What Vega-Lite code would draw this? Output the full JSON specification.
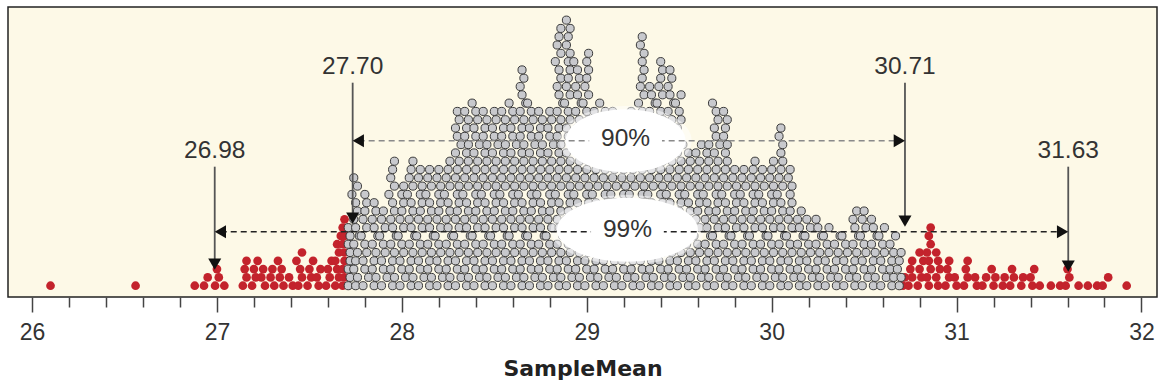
{
"$schema": "https://vega.github.io/schema/vega-lite/v6.json",
"width": 1149, "height": 290,
"autosize": {"type": "none"},
"padding": {"left": 8, "top": 7, "right": 3, "bottom": 91},
"background": "white",
"config": {"view": {"fill": "#fdf9e7", "stroke": "#222222", "strokeWidth": 1.5}},
"datasets": {
"intervals": [
{"iv":"90%","lo":27.734,"hi":30.721,"mid":29.21,"y":18.47},
{"iv":"99%","lo":26.988,"hi":31.604,"mid":29.22,"y":7.51}
],
"marks": [
{"label":"26.98","x":26.988,"top":15.34,"tip":2.93},
{"label":"27.70","x":27.734,"top":25.46,"tip":8.47},
{"label":"30.71","x":30.721,"top":25.46,"tip":8.11},
{"label":"31.63","x":31.604,"top":15.34,"tip":2.69}
],
"means": [
{"m":26.10},{"m":26.56},{"m":26.88},{"m":26.93},{"m":26.95},{"m":26.99},{"m":27.01},{"m":27.00},{"m":27.04},
{"m":27.14},{"m":27.16},{"m":27.15},{"m":27.16},{"m":27.19},{"m":27.21},{"m":27.20},{"m":27.22},
{"m":27.26},{"m":27.24},{"m":27.25},{"m":27.31},{"m":27.29},{"m":27.30},{"m":27.36},{"m":27.34},{"m":27.35},{"m":27.33},
{"m":27.41},{"m":27.39},{"m":27.44},{"m":27.46},{"m":27.45},{"m":27.43},{"m":27.46},{"m":27.49},{"m":27.51},{"m":27.50},{"m":27.52},
{"m":27.55},{"m":27.54},{"m":27.56},{"m":27.59},{"m":27.61},{"m":27.60},{"m":27.62},
{"m":27.64},{"m":27.66},{"m":27.65},{"m":27.64},{"m":27.66},{"m":27.65},{"m":27.67},
{"m":27.68},{"m":27.69},{"m":27.68},{"m":27.69},{"m":27.69},{"m":27.68},{"m":27.69},{"m":27.68},{"m":27.69},
{"m":27.71},{"m":27.72},{"m":27.71},{"m":27.72},{"m":27.72},{"m":27.71},{"m":27.72},{"m":27.71},
{"m":27.75},{"m":27.76},{"m":27.74},{"m":27.75},{"m":27.76},{"m":27.74},{"m":27.77},{"m":27.75},{"m":27.74},{"m":27.76},{"m":27.75},{"m":27.73},{"m":27.76},{"m":27.74},
{"m":27.79},{"m":27.82},{"m":27.80},{"m":27.79},{"m":27.81},{"m":27.80},{"m":27.78},{"m":27.81},{"m":27.79},{"m":27.80},{"m":27.81},{"m":27.80},
{"m":27.85},{"m":27.86},{"m":27.84},{"m":27.85},{"m":27.86},{"m":27.84},{"m":27.87},{"m":27.85},{"m":27.84},{"m":27.86},{"m":27.85},
{"m":27.89},{"m":27.92},{"m":27.90},{"m":27.89},{"m":27.91},{"m":27.90},{"m":27.88},{"m":27.91},{"m":27.89},{"m":27.90},
{"m":27.95},{"m":27.96},{"m":27.94},{"m":27.95},{"m":27.96},{"m":27.94},{"m":27.97},{"m":27.95},{"m":27.94},{"m":27.96},{"m":27.95},{"m":27.93},{"m":27.96},{"m":27.94},{"m":27.95},{"m":27.96},
{"m":27.99},{"m":28.02},{"m":28.00},{"m":27.99},{"m":28.01},{"m":28.00},{"m":27.98},{"m":28.01},{"m":27.99},{"m":28.00},{"m":28.01},{"m":28.00},{"m":28.01},
{"m":28.05},{"m":28.06},{"m":28.04},{"m":28.05},{"m":28.06},{"m":28.04},{"m":28.07},{"m":28.05},{"m":28.04},{"m":28.06},{"m":28.05},{"m":28.03},{"m":28.06},{"m":28.04},{"m":28.05},{"m":28.06},
{"m":28.09},{"m":28.12},{"m":28.10},{"m":28.09},{"m":28.11},{"m":28.10},{"m":28.08},{"m":28.11},{"m":28.09},{"m":28.10},{"m":28.11},{"m":28.10},{"m":28.11},{"m":28.09},{"m":28.10},
{"m":28.15},{"m":28.16},{"m":28.14},{"m":28.15},{"m":28.16},{"m":28.14},{"m":28.17},{"m":28.15},{"m":28.14},{"m":28.16},{"m":28.15},{"m":28.13},{"m":28.16},{"m":28.14},{"m":28.15},
{"m":28.19},{"m":28.22},{"m":28.20},{"m":28.19},{"m":28.21},{"m":28.20},{"m":28.18},{"m":28.21},{"m":28.19},{"m":28.20},{"m":28.21},{"m":28.20},{"m":28.21},{"m":28.19},{"m":28.20},
{"m":28.25},{"m":28.26},{"m":28.24},{"m":28.25},{"m":28.26},{"m":28.24},{"m":28.27},{"m":28.25},{"m":28.24},{"m":28.26},{"m":28.25},{"m":28.23},{"m":28.26},{"m":28.24},{"m":28.25},{"m":28.26},
{"m":28.29},{"m":28.32},{"m":28.30},{"m":28.29},{"m":28.31},{"m":28.30},{"m":28.28},{"m":28.31},{"m":28.29},{"m":28.30},{"m":28.31},{"m":28.30},{"m":28.31},{"m":28.29},{"m":28.30},{"m":28.31},{"m":28.29},{"m":28.32},{"m":28.30},{"m":28.29},{"m":28.31},{"m":28.30},
{"m":28.35},{"m":28.36},{"m":28.34},{"m":28.35},{"m":28.36},{"m":28.34},{"m":28.37},{"m":28.35},{"m":28.34},{"m":28.36},{"m":28.35},{"m":28.33},{"m":28.36},{"m":28.34},{"m":28.35},{"m":28.36},{"m":28.35},{"m":28.36},{"m":28.34},{"m":28.35},{"m":28.36},{"m":28.34},
{"m":28.39},{"m":28.42},{"m":28.40},{"m":28.39},{"m":28.41},{"m":28.40},{"m":28.38},{"m":28.41},{"m":28.39},{"m":28.40},{"m":28.41},{"m":28.40},{"m":28.41},{"m":28.39},{"m":28.40},{"m":28.41},{"m":28.39},{"m":28.42},{"m":28.40},{"m":28.39},{"m":28.41},{"m":28.40},{"m":28.38},
{"m":28.45},{"m":28.46},{"m":28.44},{"m":28.45},{"m":28.46},{"m":28.44},{"m":28.47},{"m":28.45},{"m":28.44},{"m":28.46},{"m":28.45},{"m":28.43},{"m":28.46},{"m":28.44},{"m":28.45},{"m":28.46},{"m":28.45},{"m":28.46},{"m":28.44},{"m":28.45},{"m":28.46},{"m":28.44},
{"m":28.49},{"m":28.52},{"m":28.50},{"m":28.49},{"m":28.51},{"m":28.50},{"m":28.48},{"m":28.51},{"m":28.49},{"m":28.50},{"m":28.51},{"m":28.50},{"m":28.51},{"m":28.49},{"m":28.50},{"m":28.51},{"m":28.49},{"m":28.52},{"m":28.50},{"m":28.49},{"m":28.51},{"m":28.50},
{"m":28.55},{"m":28.56},{"m":28.54},{"m":28.55},{"m":28.56},{"m":28.54},{"m":28.57},{"m":28.55},{"m":28.54},{"m":28.56},{"m":28.55},{"m":28.53},{"m":28.56},{"m":28.54},{"m":28.55},{"m":28.56},{"m":28.55},{"m":28.56},{"m":28.54},{"m":28.55},{"m":28.56},{"m":28.54},
{"m":28.59},{"m":28.62},{"m":28.60},{"m":28.59},{"m":28.61},{"m":28.60},{"m":28.58},{"m":28.61},{"m":28.59},{"m":28.60},{"m":28.61},{"m":28.60},{"m":28.61},{"m":28.59},{"m":28.60},{"m":28.61},{"m":28.59},{"m":28.62},{"m":28.60},{"m":28.59},{"m":28.61},{"m":28.60},{"m":28.58},
{"m":28.65},{"m":28.66},{"m":28.64},{"m":28.65},{"m":28.66},{"m":28.64},{"m":28.67},{"m":28.65},{"m":28.64},{"m":28.66},{"m":28.65},{"m":28.63},{"m":28.66},{"m":28.64},{"m":28.65},{"m":28.66},{"m":28.65},{"m":28.66},{"m":28.64},{"m":28.65},{"m":28.66},{"m":28.64},{"m":28.67},{"m":28.65},{"m":28.64},{"m":28.66},{"m":28.65},
{"m":28.69},{"m":28.72},{"m":28.70},{"m":28.69},{"m":28.71},{"m":28.70},{"m":28.68},{"m":28.71},{"m":28.69},{"m":28.70},{"m":28.71},{"m":28.70},{"m":28.71},{"m":28.69},{"m":28.70},{"m":28.71},{"m":28.69},{"m":28.72},{"m":28.70},{"m":28.69},{"m":28.71},{"m":28.70},{"m":28.68},
{"m":28.75},{"m":28.76},{"m":28.74},{"m":28.75},{"m":28.76},{"m":28.74},{"m":28.77},{"m":28.75},{"m":28.74},{"m":28.76},{"m":28.75},{"m":28.73},{"m":28.76},{"m":28.74},{"m":28.75},{"m":28.76},{"m":28.75},{"m":28.76},{"m":28.74},{"m":28.75},{"m":28.76},{"m":28.74},
{"m":28.79},{"m":28.82},{"m":28.80},{"m":28.79},{"m":28.81},{"m":28.80},{"m":28.78},{"m":28.81},{"m":28.79},{"m":28.80},{"m":28.81},{"m":28.80},{"m":28.81},{"m":28.79},{"m":28.80},{"m":28.81},{"m":28.79},{"m":28.82},{"m":28.80},{"m":28.79},{"m":28.81},{"m":28.80},
{"m":28.85},{"m":28.86},{"m":28.84},{"m":28.85},{"m":28.86},{"m":28.84},{"m":28.87},{"m":28.85},{"m":28.84},{"m":28.86},{"m":28.85},{"m":28.83},{"m":28.86},{"m":28.84},{"m":28.85},{"m":28.86},
{"m":28.85},{"m":28.86},{"m":28.84},{"m":28.85},{"m":28.86},{"m":28.84},{"m":28.87},{"m":28.85},{"m":28.84},{"m":28.86},{"m":28.85},{"m":28.83},{"m":28.86},{"m":28.84},{"m":28.85},{"m":28.86},
{"m":28.89},{"m":28.92},{"m":28.90},{"m":28.89},{"m":28.91},{"m":28.90},{"m":28.88},{"m":28.91},{"m":28.89},{"m":28.90},{"m":28.91},{"m":28.90},{"m":28.91},{"m":28.89},{"m":28.90},{"m":28.91},
{"m":28.89},{"m":28.92},{"m":28.90},{"m":28.89},{"m":28.91},{"m":28.90},{"m":28.88},{"m":28.91},{"m":28.89},{"m":28.90},{"m":28.91},{"m":28.90},{"m":28.91},{"m":28.89},{"m":28.90},{"m":28.91},{"m":28.89},
{"m":28.95},{"m":28.96},{"m":28.94},{"m":28.95},{"m":28.96},{"m":28.94},{"m":28.97},{"m":28.95},{"m":28.94},{"m":28.96},{"m":28.95},{"m":28.93},{"m":28.96},{"m":28.94},{"m":28.95},{"m":28.96},
{"m":28.95},{"m":28.96},{"m":28.94},{"m":28.95},{"m":28.96},{"m":28.94},{"m":28.97},{"m":28.95},{"m":28.94},{"m":28.96},{"m":28.95},{"m":28.93},
{"m":28.99},{"m":29.02},{"m":29.00},{"m":28.99},{"m":29.01},{"m":29.00},{"m":28.98},{"m":29.01},{"m":28.99},{"m":29.00},{"m":29.01},{"m":29.00},{"m":29.01},{"m":28.99},{"m":29.00},{"m":29.01},
{"m":28.99},{"m":29.02},{"m":29.00},{"m":28.99},{"m":29.01},{"m":29.00},{"m":28.98},{"m":29.01},{"m":28.99},{"m":29.00},{"m":29.01},{"m":29.00},{"m":29.01},
{"m":29.05},{"m":29.06},{"m":29.04},{"m":29.05},{"m":29.06},{"m":29.04},{"m":29.07},{"m":29.05},{"m":29.04},{"m":29.06},{"m":29.05},{"m":29.03},{"m":29.06},{"m":29.04},{"m":29.05},{"m":29.06},{"m":29.05},{"m":29.06},{"m":29.04},{"m":29.05},{"m":29.06},{"m":29.04},{"m":29.07},
{"m":29.09},{"m":29.12},{"m":29.10},{"m":29.09},{"m":29.11},{"m":29.10},{"m":29.08},{"m":29.11},{"m":29.09},{"m":29.10},{"m":29.11},{"m":29.10},{"m":29.11},{"m":29.09},{"m":29.10},{"m":29.11},{"m":29.09},{"m":29.12},{"m":29.10},{"m":29.09},{"m":29.11},{"m":29.10},
{"m":29.15},{"m":29.16},{"m":29.14},{"m":29.15},{"m":29.16},{"m":29.14},{"m":29.17},{"m":29.15},{"m":29.14},{"m":29.16},{"m":29.15},{"m":29.13},{"m":29.16},{"m":29.14},{"m":29.15},{"m":29.16},{"m":29.15},{"m":29.16},{"m":29.14},{"m":29.15},{"m":29.16},{"m":29.14},
{"m":29.19},{"m":29.22},{"m":29.20},{"m":29.19},{"m":29.21},{"m":29.20},{"m":29.18},{"m":29.21},{"m":29.19},{"m":29.20},{"m":29.21},{"m":29.20},{"m":29.21},{"m":29.19},{"m":29.20},{"m":29.21},{"m":29.19},{"m":29.22},{"m":29.20},{"m":29.19},{"m":29.21},
{"m":29.25},{"m":29.26},{"m":29.24},{"m":29.25},{"m":29.26},{"m":29.24},{"m":29.27},{"m":29.25},{"m":29.24},{"m":29.26},{"m":29.25},{"m":29.23},{"m":29.26},{"m":29.24},{"m":29.25},{"m":29.26},{"m":29.25},{"m":29.26},{"m":29.24},{"m":29.25},{"m":29.26},{"m":29.24},
{"m":29.29},{"m":29.32},{"m":29.30},{"m":29.29},{"m":29.31},{"m":29.30},{"m":29.28},{"m":29.31},{"m":29.29},{"m":29.30},{"m":29.31},{"m":29.30},{"m":29.31},{"m":29.29},{"m":29.30},{"m":29.31},
{"m":29.29},{"m":29.32},{"m":29.30},{"m":29.29},{"m":29.31},{"m":29.30},{"m":29.28},{"m":29.31},{"m":29.29},{"m":29.30},{"m":29.31},{"m":29.30},{"m":29.31},{"m":29.29},{"m":29.30},
{"m":29.35},{"m":29.36},{"m":29.34},{"m":29.35},{"m":29.36},{"m":29.34},{"m":29.37},{"m":29.35},{"m":29.34},{"m":29.36},{"m":29.35},{"m":29.33},{"m":29.36},{"m":29.34},{"m":29.35},{"m":29.36},{"m":29.35},{"m":29.36},{"m":29.34},{"m":29.35},{"m":29.36},{"m":29.34},{"m":29.37},{"m":29.35},{"m":29.34},
{"m":29.39},{"m":29.42},{"m":29.40},{"m":29.39},{"m":29.41},{"m":29.40},{"m":29.38},{"m":29.41},{"m":29.39},{"m":29.40},{"m":29.41},{"m":29.40},{"m":29.41},{"m":29.39},{"m":29.40},{"m":29.41},
{"m":29.39},{"m":29.42},{"m":29.40},{"m":29.39},{"m":29.41},{"m":29.40},{"m":29.38},{"m":29.41},{"m":29.39},{"m":29.40},{"m":29.41},{"m":29.40},
{"m":29.45},{"m":29.46},{"m":29.44},{"m":29.45},{"m":29.46},{"m":29.44},{"m":29.47},{"m":29.45},{"m":29.44},{"m":29.46},{"m":29.45},{"m":29.43},{"m":29.46},{"m":29.44},{"m":29.45},{"m":29.46},
{"m":29.45},{"m":29.46},{"m":29.44},{"m":29.45},{"m":29.46},{"m":29.44},{"m":29.47},{"m":29.45},{"m":29.44},{"m":29.46},{"m":29.45},
{"m":29.49},{"m":29.52},{"m":29.50},{"m":29.49},{"m":29.51},{"m":29.50},{"m":29.48},{"m":29.51},{"m":29.49},{"m":29.50},{"m":29.51},{"m":29.50},{"m":29.51},{"m":29.49},{"m":29.50},{"m":29.51},{"m":29.49},{"m":29.52},{"m":29.50},{"m":29.49},{"m":29.51},{"m":29.50},{"m":29.48},{"m":29.51},
{"m":29.55},{"m":29.56},{"m":29.54},{"m":29.55},{"m":29.56},{"m":29.54},{"m":29.57},{"m":29.55},{"m":29.54},{"m":29.56},{"m":29.55},{"m":29.53},{"m":29.56},{"m":29.54},{"m":29.55},{"m":29.56},{"m":29.55},
{"m":29.59},{"m":29.62},{"m":29.60},{"m":29.59},{"m":29.61},{"m":29.60},{"m":29.58},{"m":29.61},{"m":29.59},{"m":29.60},{"m":29.61},{"m":29.60},{"m":29.61},{"m":29.59},{"m":29.60},{"m":29.61},{"m":29.59},{"m":29.62},
{"m":29.65},{"m":29.66},{"m":29.64},{"m":29.65},{"m":29.66},{"m":29.64},{"m":29.67},{"m":29.65},{"m":29.64},{"m":29.66},{"m":29.65},{"m":29.63},{"m":29.66},{"m":29.64},{"m":29.65},{"m":29.66},{"m":29.65},{"m":29.66},
{"m":29.69},{"m":29.72},{"m":29.70},{"m":29.69},{"m":29.71},{"m":29.70},{"m":29.68},{"m":29.71},{"m":29.69},{"m":29.70},{"m":29.71},{"m":29.70},{"m":29.71},{"m":29.69},{"m":29.70},{"m":29.71},{"m":29.69},{"m":29.72},{"m":29.70},{"m":29.69},{"m":29.71},{"m":29.70},{"m":29.68},
{"m":29.75},{"m":29.76},{"m":29.74},{"m":29.75},{"m":29.76},{"m":29.74},{"m":29.77},{"m":29.75},{"m":29.74},{"m":29.76},{"m":29.75},{"m":29.73},{"m":29.76},{"m":29.74},{"m":29.75},{"m":29.76},{"m":29.75},{"m":29.76},{"m":29.74},{"m":29.75},{"m":29.76},{"m":29.74},
{"m":29.79},{"m":29.82},{"m":29.80},{"m":29.79},{"m":29.81},{"m":29.80},{"m":29.78},{"m":29.81},{"m":29.79},{"m":29.80},{"m":29.81},{"m":29.80},{"m":29.81},{"m":29.79},{"m":29.80},
{"m":29.85},{"m":29.86},{"m":29.84},{"m":29.85},{"m":29.86},{"m":29.84},{"m":29.87},{"m":29.85},{"m":29.84},{"m":29.86},{"m":29.85},{"m":29.83},{"m":29.86},{"m":29.84},{"m":29.85},
{"m":29.89},{"m":29.92},{"m":29.90},{"m":29.89},{"m":29.91},{"m":29.90},{"m":29.88},{"m":29.91},{"m":29.89},{"m":29.90},{"m":29.91},{"m":29.90},{"m":29.91},{"m":29.89},{"m":29.90},{"m":29.91},
{"m":29.95},{"m":29.96},{"m":29.94},{"m":29.95},{"m":29.96},{"m":29.94},{"m":29.97},{"m":29.95},{"m":29.94},{"m":29.96},{"m":29.95},{"m":29.93},{"m":29.96},{"m":29.94},{"m":29.95},
{"m":29.99},{"m":30.02},{"m":30.00},{"m":29.99},{"m":30.01},{"m":30.00},{"m":29.98},{"m":30.01},{"m":29.99},{"m":30.00},{"m":30.01},{"m":30.00},{"m":30.01},{"m":29.99},{"m":30.00},{"m":30.01},
{"m":30.05},{"m":30.06},{"m":30.04},{"m":30.05},{"m":30.06},{"m":30.04},{"m":30.07},{"m":30.05},{"m":30.04},{"m":30.06},{"m":30.05},{"m":30.03},{"m":30.06},{"m":30.04},{"m":30.05},{"m":30.06},{"m":30.05},{"m":30.06},{"m":30.04},{"m":30.05},
{"m":30.09},{"m":30.12},{"m":30.10},{"m":30.09},{"m":30.11},{"m":30.10},{"m":30.08},{"m":30.11},{"m":30.09},{"m":30.10},{"m":30.11},{"m":30.10},{"m":30.11},{"m":30.09},{"m":30.10},
{"m":30.15},{"m":30.16},{"m":30.14},{"m":30.15},{"m":30.16},{"m":30.14},{"m":30.17},{"m":30.15},{"m":30.14},{"m":30.16},
{"m":30.19},{"m":30.22},{"m":30.20},{"m":30.19},{"m":30.21},{"m":30.20},{"m":30.18},{"m":30.21},{"m":30.19},
{"m":30.25},{"m":30.26},{"m":30.24},{"m":30.25},{"m":30.26},{"m":30.24},{"m":30.27},{"m":30.25},{"m":30.24},
{"m":30.29},{"m":30.32},{"m":30.30},{"m":30.29},{"m":30.31},{"m":30.30},{"m":30.28},{"m":30.31},
{"m":30.35},{"m":30.36},{"m":30.34},{"m":30.35},{"m":30.36},{"m":30.34},{"m":30.37},
{"m":30.39},{"m":30.42},{"m":30.40},{"m":30.39},{"m":30.41},{"m":30.40},{"m":30.38},
{"m":30.45},{"m":30.46},{"m":30.44},{"m":30.45},{"m":30.46},{"m":30.44},{"m":30.47},{"m":30.45},{"m":30.44},{"m":30.46},
{"m":30.49},{"m":30.52},{"m":30.50},{"m":30.49},{"m":30.51},{"m":30.50},{"m":30.48},{"m":30.51},{"m":30.49},{"m":30.50},
{"m":30.55},{"m":30.56},{"m":30.54},{"m":30.55},{"m":30.56},{"m":30.54},{"m":30.57},{"m":30.55},{"m":30.54},
{"m":30.59},{"m":30.62},{"m":30.60},{"m":30.59},{"m":30.61},{"m":30.60},{"m":30.58},{"m":30.61},
{"m":30.65},{"m":30.66},{"m":30.64},{"m":30.65},{"m":30.66},{"m":30.64},{"m":30.67},
{"m":30.69},{"m":30.70},{"m":30.68},{"m":30.69},{"m":30.70},
{"m":30.71},{"m":30.72},{"m":30.74},{"m":30.76},{"m":30.75},{"m":30.76},{"m":30.79},{"m":30.81},{"m":30.80},{"m":30.82},{"m":30.80},
{"m":30.85},{"m":30.84},{"m":30.86},{"m":30.85},{"m":30.84},{"m":30.86},{"m":30.85},{"m":30.86},{"m":30.90},{"m":30.89},{"m":30.91},{"m":30.90},{"m":30.89},
{"m":30.94},{"m":30.96},{"m":30.95},{"m":30.96},{"m":31.00},{"m":30.99},{"m":31.04},{"m":31.06},{"m":31.05},{"m":31.06},{"m":31.11},{"m":31.10},{"m":31.14},{"m":31.16},
{"m":31.20},{"m":31.21},{"m":31.19},{"m":31.25},{"m":31.26},{"m":31.29},{"m":31.31},{"m":31.30},{"m":31.35},{"m":31.36},{"m":31.41},{"m":31.40},{"m":31.42},
{"m":31.45},{"m":31.51},{"m":31.56},{"m":31.59},{"m":31.61},{"m":31.60},{"m":31.66},{"m":31.71},{"m":31.76},{"m":31.79},{"m":31.82},{"m":31.92}
]
},
"layer": [
{
"data": {"name": "means"},
"transform": [
{"filter": "datum.m < 27.705 || datum.m > 30.705"},
{"bin": {"step": 0.05, "extent": [25.825, 32.125], "nice": false}, "field": "m", "as": "b"},
{"window": [{"op": "row_number", "as": "k"}], "groupby": ["b"]}
],
"mark": {"type": "circle", "size": 76, "fill": "#c3232c", "opacity": 1},
"encoding": {
"x": {"field": "m", "type": "quantitative", "scale": {"domain": [25.87, 32.084], "nice": false, "zero": false},
"axis": {"title": "SampleMean",
"values": [26,26.2,26.4,26.6,26.8,27,27.2,27.4,27.6,27.8,28,28.2,28.4,28.6,28.8,29,29.2,29.4,29.6,29.8,30,30.2,30.4,30.6,30.8,31,31.2,31.4,31.6,31.8,32],
"tickCount": 200,
"labelExpr": "datum.value % 1 === 0 ? format(datum.value, 'd') : ''",
"tickSize": {"condition": {"test": "datum.value % 1 === 0", "value": 15}, "value": 10},
"tickColor": "#444444", "tickWidth": 1.5, "domain": false, "grid": false,
"labelFont": "Liberation Sans", "labelFontSize": 23, "labelColor": "#333333", "labelPadding": 9.5,
"labelOverlap": false, "labelFlush": false,
"titleFont": "DejaVu Sans", "titleFontSize": 22, "titleFontWeight": "bold", "titleColor": "#222222", "titlePadding": 14}},
"y": {"field": "k", "type": "quantitative", "scale": {"domain": [-0.36, 34.58], "nice": false, "zero": false}, "axis": null}
}
},
{
"data": {"name": "means"},
"transform": [
{"filter": "datum.m > 27.705 && datum.m < 30.705"},
{"bin": {"step": 0.05, "extent": [25.825, 32.125], "nice": false}, "field": "m", "as": "b"},
{"window": [{"op": "row_number", "as": "k"}], "groupby": ["b"]}
],
"mark": {"type": "circle", "size": 66, "fill": "#c8c9cd", "stroke": "#3a3a3a", "strokeWidth": 1, "opacity": 1},
"encoding": {
"x": {"field": "m", "type": "quantitative"},
"y": {"field": "k", "type": "quantitative", "axis": null}
}
},
{
"data": {"name": "intervals"},
"transform": [{"filter": "datum.iv === '90%'"}],
"mark": {"type": "point", "shape": "M-1,0A1,0.525,0,1,0,1,0A1,0.525,0,1,0,-1,0Z", "size": 17500, "filled": true, "color": "#ffffff", "opacity": 0.5},
"encoding": {"x": {"field": "mid", "type": "quantitative"}, "y": {"field": "y", "type": "quantitative", "axis": null}}
},
{
"data": {"name": "intervals"},
"transform": [{"filter": "datum.iv === '90%'"}],
"mark": {"type": "point", "shape": "M-1,0A1,0.525,0,1,0,1,0A1,0.525,0,1,0,-1,0Z", "size": 14400, "filled": true, "color": "#ffffff", "opacity": 1},
"encoding": {"x": {"field": "mid", "type": "quantitative"}, "y": {"field": "y", "type": "quantitative", "axis": null}}
},
{
"data": {"name": "intervals"},
"transform": [{"filter": "datum.iv === '99%'"}],
"mark": {"type": "point", "shape": "M-1,0A1,0.454,0,1,0,1,0A1,0.454,0,1,0,-1,0Z", "size": 23500, "filled": true, "color": "#ffffff", "opacity": 0.5, "yOffset": -2},
"encoding": {"x": {"field": "mid", "type": "quantitative"}, "y": {"field": "y", "type": "quantitative", "axis": null}}
},
{
"data": {"name": "intervals"},
"transform": [{"filter": "datum.iv === '99%'"}],
"mark": {"type": "point", "shape": "M-1,0A1,0.454,0,1,0,1,0A1,0.454,0,1,0,-1,0Z", "size": 19881, "filled": true, "color": "#ffffff", "opacity": 1, "yOffset": -2},
"encoding": {"x": {"field": "mid", "type": "quantitative"}, "y": {"field": "y", "type": "quantitative", "axis": null}}
},
{
"data": {"name": "intervals"},
"mark": {"type": "rule", "strokeDash": [6, 4], "strokeWidth": 1.5, "xOffset": 6, "x2Offset": -6},
"encoding": {
"x": {"field": "lo", "type": "quantitative"},
"x2": {"field": "hi"},
"y": {"field": "y", "type": "quantitative", "axis": null},
"color": {"field": "iv", "type": "nominal", "scale": {"domain": ["90%", "99%"], "range": ["#8a8a8a", "#222222"]}, "legend": null}
}
},
{
"data": {"name": "intervals"},
"mark": {"type": "point", "shape": "M-1,-0.3L1,-0.3L1,0.3L-1,0.3Z", "size": 5300, "filled": true, "color": "#ffffff", "opacity": 1},
"encoding": {"x": {"field": "mid", "type": "quantitative"}, "y": {"field": "y", "type": "quantitative", "axis": null}}
},
{
"data": {"name": "intervals"},
"mark": {"type": "text", "font": "Liberation Sans", "fontSize": 24.5, "color": "#333333", "baseline": "middle", "dy": -2},
"encoding": {"x": {"field": "mid", "type": "quantitative"}, "y": {"field": "y", "type": "quantitative", "axis": null}, "text": {"field": "iv"}}
},
{
"data": {"name": "marks"},
"mark": {"type": "rule", "color": "#555555", "strokeWidth": 1.8, "y2Offset": -8},
"encoding": {"x": {"field": "x", "type": "quantitative"}, "y": {"field": "top", "type": "quantitative", "axis": null}, "y2": {"field": "tip"}}
},
{
"data": {"name": "marks"},
"mark": {"type": "point", "shape": "triangle-down", "size": 170, "filled": true, "color": "#111111", "opacity": 1, "yOffset": -5.65},
"encoding": {"x": {"field": "x", "type": "quantitative"}, "y": {"field": "tip", "type": "quantitative", "axis": null}}
},
{
"data": {"name": "intervals"},
"mark": {"type": "point", "shape": "triangle-left", "size": 170, "filled": true, "color": "#111111", "opacity": 1, "xOffset": 5.65},
"encoding": {"x": {"field": "lo", "type": "quantitative"}, "y": {"field": "y", "type": "quantitative", "axis": null}}
},
{
"data": {"name": "intervals"},
"mark": {"type": "point", "shape": "triangle-right", "size": 170, "filled": true, "color": "#111111", "opacity": 1, "xOffset": -5.65},
"encoding": {"x": {"field": "hi", "type": "quantitative"}, "y": {"field": "y", "type": "quantitative", "axis": null}}
},
{
"data": {"name": "marks"},
"mark": {"type": "text", "font": "Liberation Sans", "fontSize": 24.5, "color": "#333333", "baseline": "alphabetic", "dy": -9},
"encoding": {"x": {"field": "x", "type": "quantitative"}, "y": {"field": "top", "type": "quantitative", "axis": null}, "text": {"field": "label"}}
}
]
}
